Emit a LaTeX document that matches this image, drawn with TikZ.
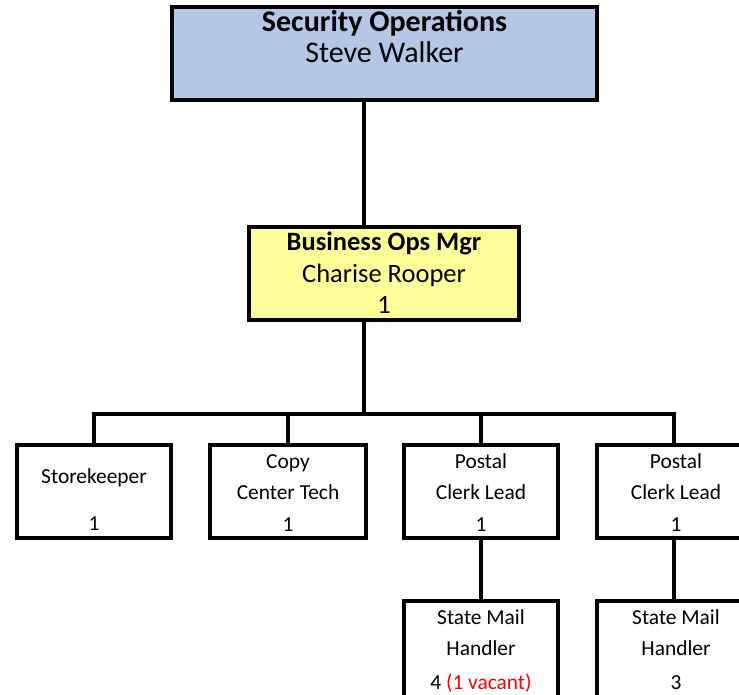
\documentclass[tikz,border=0pt]{standalone}
\usepackage{fontspec}
\setmainfont{Carlito}
\begin{document}
\begin{tikzpicture}[x=1pt,y=-1pt,
  box/.style={draw=black,line width=3.2pt,minimum width=#1,inner sep=0pt},
  link/.style={line width=3.2pt,line cap=rect},
  big/.style={inner sep=0pt,anchor=base,font=\fontsize{30}{31}\selectfont},
  mid/.style={inner sep=0pt,anchor=base,font=\fontsize{26.5}{31}\selectfont},
  small/.style={inner sep=0pt,anchor=base,font=\fontsize{21.4}{31}\selectfont}]
\definecolor{topblue}{HTML}{B4C7E7}
\definecolor{mgryellow}{HTML}{FFFF99}
\definecolor{vacant}{HTML}{FF0000}
\useasboundingbox (0,0) rectangle (739,695);
\clip (0,0) rectangle (739,695);

% boxes
\node[box=425pt,minimum height=93pt,fill=topblue] (top) at (384.5,53.5) {};
\node[box=270pt,minimum height=93pt,fill=mgryellow] (mgr) at (384,273.5) {};
\node[box=154pt,minimum height=93pt] (store) at (94,491.5) {};
\node[box=156pt,minimum height=93pt] (copy) at (288,491.5) {};
\node[box=154pt,minimum height=93pt] (clerkA) at (481,491.5) {};
\node[box=154pt,minimum height=93pt] (clerkB) at (674,491.5) {};
\node[box=154pt,minimum height=110pt] (mailA) at (481,656) {};
\node[box=154pt,minimum height=110pt] (mailB) at (674,656) {};

% connectors
\coordinate (trunk) at (364,0);
\coordinate (bus) at (364,414);
\draw[link] (top.south -| trunk) -- (mgr.north -| trunk);
\draw[link] (mgr.south -| trunk) -- (bus);
\draw[link] (store.north) |- (bus) -| (clerkB.north);
\draw[link] (copy.north) -- (copy.north |- bus);
\draw[link] (clerkA.north) -- (clerkA.north |- bus);
\draw[link] (clerkA.south) -- (mailA.north);
\draw[link] (clerkB.south) -- (mailB.north);

% texts
\node[big,font=\fontsize{30}{31}\selectfont\bfseries] (t1) at (384.5,32) {Security Operations};
\node[big] (t2) at (384.5,63) {Steve Walker};
\node[mid,font=\fontsize{26.5}{31}\selectfont\bfseries] (m1) at (384,251) {Business Ops Mgr};
\node[mid] (m2) at (384,282) {Charise Rooper};
\node[mid] (m3) at (384,313) {1};

\node[small] (s1) at (94,483) {Storekeeper};
\node[small] (s2) at (94,530) {1};
\node[small] (c1) at (288,468) {Copy};
\node[small] (c2) at (288,499) {Center Tech};
\node[small] (c3) at (288,531) {1};
\node[small] (pa1) at (481,468) {Postal};
\node[small] (pa2) at (481,499) {Clerk Lead};
\node[small] (pa3) at (481,531) {1};
\node[small] (pb1) at (676,468) {Postal};
\node[small] (pb2) at (676,499) {Clerk Lead};
\node[small] (pb3) at (676,531) {1};
\node[small] (ma1) at (481,624) {State Mail};
\node[small] (ma2) at (481,655) {Handler};
\node[small] (ma3) at (481,689) {4 \textcolor{vacant}{(1 vacant)}};
\node[small] (mb1) at (676,624) {State Mail};
\node[small] (mb2) at (676,655) {Handler};
\node[small] (mb3) at (676,689) {3};
\end{tikzpicture}
\end{document}
